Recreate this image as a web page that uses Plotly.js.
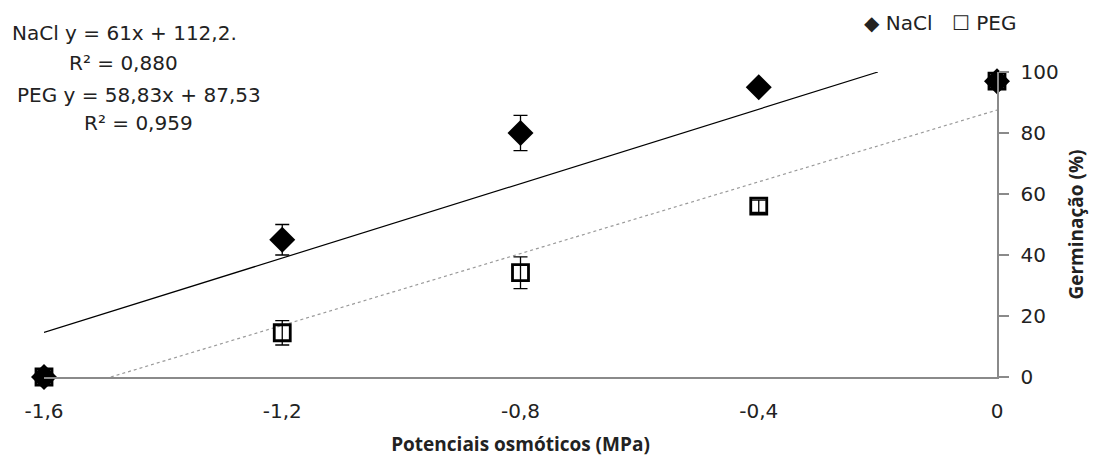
<!DOCTYPE html>
<html><head><meta charset="utf-8">
<script src="https://cdn.plot.ly/plotly-3.0.1.min.js"></script>
<style>body{margin:0;background:#fff}#c{width:1094px;height:459px}</style>
</head><body><div id="c"></div>
<script>
const xVals = [-1.6, -1.2, -0.8, -0.4, 0];
const naclY = [0, 45, 80, 95, 97];
const naclErr = [0, 5, 5.8, 1.5, 1.5];
const pegY = [0, 14.5, 34.2, 56, 97];
const pegErr = [0, 4, 5.2, 2, 1.5];
const xTickVals = [-1.6, -1.2, -0.8, -0.4, 0];
const xTickText = ['-1,6', '-1,2', '-0,8', '-0,4', '0'];
const yTickVals = [0, 20, 40, 60, 80, 100];
const naclFit = [61, 112.2];
const pegFit = [58.83, 87.53];
const seriesNames = ['NaCl', 'PEG'];

const F = '"DejaVu Sans", sans-serif';
const FB = '"Open Sans", sans-serif';
const naclX0 = -1.6, naclX1 = (100 - naclFit[1]) / naclFit[0];
const pegX0 = (0 - pegFit[1]) / pegFit[0], pegX1 = 0;

const traces = [
  {x: [naclX0, naclX1], y: [naclFit[0]*naclX0+naclFit[1], naclFit[0]*naclX1+naclFit[1]],
   mode: 'lines', line: {color: '#000', width: 1.2}, showlegend: false, hoverinfo: 'skip', cliponaxis: false},
  {x: [pegX0, pegX1], y: [pegFit[0]*pegX0+pegFit[1], pegFit[0]*pegX1+pegFit[1]],
   mode: 'lines', line: {color: '#9a9a9a', width: 1.2, dash: 'dot'}, showlegend: false, hoverinfo: 'skip', cliponaxis: false},
  {x: xVals, y: pegY, name: seriesNames[1], mode: 'markers', cliponaxis: false, showlegend: false,
   error_y: {type: 'data', array: pegErr, visible: true, color: '#000', thickness: 1.3, width: 7},
   marker: {symbol: 'square-open', size: 16, color: '#000', line: {width: 2.8, color: '#000'}}},
  {x: xVals, y: naclY, name: seriesNames[0], mode: 'markers', cliponaxis: false, showlegend: false,
   error_y: {type: 'data', array: naclErr, visible: true, color: '#000', thickness: 1.3, width: 7},
   marker: {symbol: 'diamond', size: 20, color: '#000'}}
];

const tf = {family: F, size: 20, color: '#222'};
const bf = {family: FB, size: 19, color: '#222'};
const layout = {
  width: 1094, height: 459,
  margin: {l: 44, r: 97, t: 72, b: 82, autoexpand: false},
  paper_bgcolor: '#fff', plot_bgcolor: '#fff',
  font: tf,
  showlegend: false,
  xaxis: {range: [-1.6, 0], tickvals: xTickVals, ticktext: xTickText, showgrid: false, automargin: false,
          zeroline: false, showline: true, linecolor: '#8a8a8a', linewidth: 1.5, ticks: '',
          ticklabelstandoff: 15, tickfont: tf,
          title: {text: '<b>Potenciais osmóticos (MPa)</b>', font: bf, standoff: 16}},
  yaxis: {range: [0, 100], side: 'right', tickvals: yTickVals, showgrid: false, zeroline: false, automargin: false,
          showline: true, linecolor: '#8a8a8a', linewidth: 1.5, ticks: 'outside', ticklen: 10,
          tickcolor: '#8a8a8a', tickwidth: 1.5, ticklabelstandoff: 8, tickfont: tf,
          title: {text: '<b>Germinação (%)</b>', font: bf, standoff: 12}},
  annotations: [
    {xref: 'paper', yref: 'paper', x: -0.0357, y: 1.128, xanchor: 'left', yanchor: 'middle', showarrow: false,
     text: 'NaCl y = 61x + 112,2.', font: tf},
    {xref: 'paper', yref: 'paper', x: 0.0241, y: 1.030, xanchor: 'left', yanchor: 'middle', showarrow: false,
     text: 'R² = 0,880', font: tf},
    {xref: 'paper', yref: 'paper', x: -0.0304, y: 0.925, xanchor: 'left', yanchor: 'middle', showarrow: false,
     text: 'PEG y = 58,83x + 87,53', font: tf},
    {xref: 'paper', yref: 'paper', x: 0.0399, y: 0.833, xanchor: 'left', yanchor: 'middle', showarrow: false,
     text: 'R² = 0,959', font: tf},
    {xref: 'paper', yref: 'paper', x: 0.858, y: 1.161, xanchor: 'left', yanchor: 'middle', showarrow: false,
     text: '◆ ' + seriesNames[0], font: tf},
    {xref: 'paper', yref: 'paper', x: 0.951, y: 1.161, xanchor: 'left', yanchor: 'middle', showarrow: false,
     text: '☐ ' + seriesNames[1], font: tf}
  ]
};
Plotly.newPlot('c', traces, layout, {displayModeBar: false, staticPlot: true});
</script></body></html>
